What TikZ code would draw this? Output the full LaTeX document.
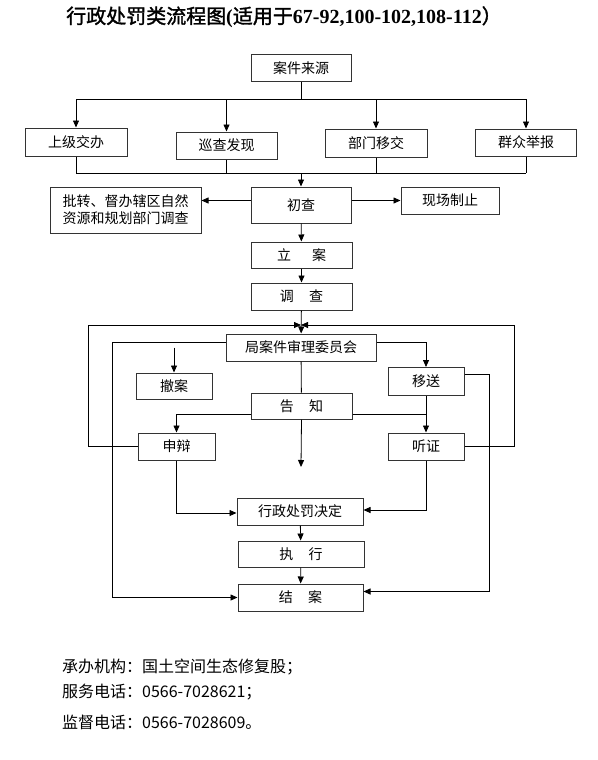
\documentclass[tikz,border=0pt]{standalone}
\usepackage{fontspec}
\setmainfont{Noto Sans CJK SC}
\newfontfamily\titlefont{Noto Sans CJK SC}[FakeBold=1.6]
\newfontfamily\latinserif{Liberation Serif}
\usetikzlibrary{arrows.meta, positioning}
\tikzset{
    % Box styles with sharp corners
    component/.style={
        rectangle,
        draw=black!80,
        fill=white,
        line width=1pt,
        minimum width=101pt,
        minimum height=27pt,
        inner sep=1pt,
        align=center,
        font=\fontsize{14}{17}\selectfont
    },
    note text/.style={
        anchor=west,
        inner sep=0pt,
        font=\fontsize{16}{19}\selectfont
    },
    arrow style/.style={
        -{Triangle[length=7pt,width=6pt]},
        line width=0.8pt,
        black
    },
    line style/.style={
        line width=0.8pt,
        black
    }
}

\begin{document}
\begin{tikzpicture}[x=1pt, y=-1pt]
        \useasboundingbox (0,0) rectangle (597,760);

        % Title
        \node[inner sep=0pt, font=\fontsize{20}{24}\selectfont] (title) at (284,17)
            {{\titlefont 行政处罚类流程图}{\latinserif\bfseries (}{\titlefont 适用于}{\latinserif\bfseries 67-92,100-102,108-112}{\titlefont ）}};

        % Case sources
        \node[component, minimum width=100pt, minimum height=26pt] (src) at (301,68) {案件来源};
        \node[component, minimum width=102pt, minimum height=28pt] (sjjb) at (76,142) {上级交办};
        \node[component] (xcfx) at (226.5,145.5) {巡查发现};
        \node[component, minimum width=102pt, minimum height=28pt] (bmyj) at (376,143) {部门移交};
        \node[component] (qzjb) at (526,142.5) {群众举报};

        % Preliminary check
        \node[component, minimum width=100pt, minimum height=36pt] (cc) at (301,205) {初查};
        \node[component, minimum width=151pt, minimum height=46pt] (pz) at (125.5,210)
            {批转、督办辖区自然\\资源和规划部门调查};
        \node[component, minimum width=98pt] (xczz) at (450,200.5) {现场制止};

        % Filing and investigation
        \node[component, minimum height=26pt] (la) at (301.5,255) {立\hspace{1.5em}案};
        \node[component] (dc) at (301.5,296.5) {调\hspace{1.1em}查};

        % Review committee
        \node[component, minimum width=150pt] (ju) at (301,347.5) {局案件审理委员会};
        \node[component, minimum width=76pt, minimum height=26pt] (ca) at (174,386) {撤案};
        \node[component, minimum width=76pt, minimum height=28pt] (ys) at (426,381.5) {移送};
        \node[component, minimum height=26pt] (gz) at (301.5,406) {告\hspace{1.1em}知};
        \node[component, minimum width=77pt] (sb) at (176.5,446.5) {申辩};
        \node[component, minimum width=76pt] (tz) at (426,446.5) {听证};

        % Decision and closing
        \node[component, minimum width=126pt] (xz) at (300,511.5) {行政处罚决定};
        \node[component, minimum width=126pt, minimum height=26pt] (zx) at (301,554) {执\hspace{1.1em}行};
        \node[component, minimum width=125pt] (ja) at (300.5,597.5) {结\hspace{1.1em}案};

        % Junction points
        \coordinate (split) at (301,99);
        \coordinate (merge) at (301,173);
        \coordinate (loop) at (301,325);
        \coordinate (loopL) at (88,325);
        \coordinate (loopR) at (514,325);
        \coordinate (notice end) at (301,467);

        % Arrows: sources
        \draw[line style] (src.south) -- (split);
        \draw[line style] (sjjb |- split) -- (qzjb |- split);
        \foreach \n in {sjjb,xcfx,bmyj,qzjb}
            \draw[arrow style] (\n |- split) -- (\n.north);
        \foreach \n in {sjjb,xcfx,bmyj,qzjb}
            \draw[line style] (\n.south) -- (\n |- merge);
        \draw[line style] (sjjb |- merge) -- (qzjb |- merge);
        \draw[arrow style] (merge) -- (cc.north);

        % Arrows: preliminary check
        \draw[arrow style] (cc.west |- xczz.west) -- (pz.east |- xczz.west);
        \draw[arrow style] (cc.east |- xczz.west) -- (xczz.west);
        \draw[arrow style] (cc) -- (la);
        \draw[arrow style] (la) -- (dc);
        \draw[arrow style] (dc) -- (ju);

        % Arrows: review committee
        \draw[arrow style] ([yshift=5pt]ju.west) -- ++(-113,0) |- (ja.west);
        \draw[arrow style] (ca |- ju.west) -- (ca.north);
        \draw[arrow style] ([yshift=5pt]ju.east) -| (ys.north);
        \draw[arrow style] ([yshift=7pt]ys.east) -- ++(25,0) |- ([yshift=6pt]ja.east);
        \draw[line style] (ju) -- (gz);
        \draw[arrow style] (gz.south) -- (notice end);
        \draw[arrow style] ([yshift=-8pt]gz.west) -| (sb.north);
        \draw[line style] ([yshift=-8pt]gz.east) -- ([yshift=-8pt]gz.east -| tz);
        \draw[arrow style] (ys) -- (tz);

        % Arrows: back to the committee
        \draw[arrow style] (sb.west) -| (loopL) -- (loop);
        \draw[arrow style] (tz.east) -| (loopR) -- (loop);

        % Arrows: decision
        \draw[arrow style] (sb.south) |- ([yshift=-1.5pt]xz.west);
        \draw[arrow style] (tz.south) |- ([yshift=1.5pt]xz.east);
        \draw[arrow style] (xz) -- (zx);
        \draw[arrow style] (zx) -- (ja);

        % Contact notes
        \node[note text] (org) at (62,667) {承办机构：国土空间生态修复股；};
        \node[note text] (tel) at (62,692) {服务电话：0566-7028621；};
        \node[note text] (sup) at (62,722) {监督电话：0566-7028609。};
    \end{tikzpicture}
\end{document}
